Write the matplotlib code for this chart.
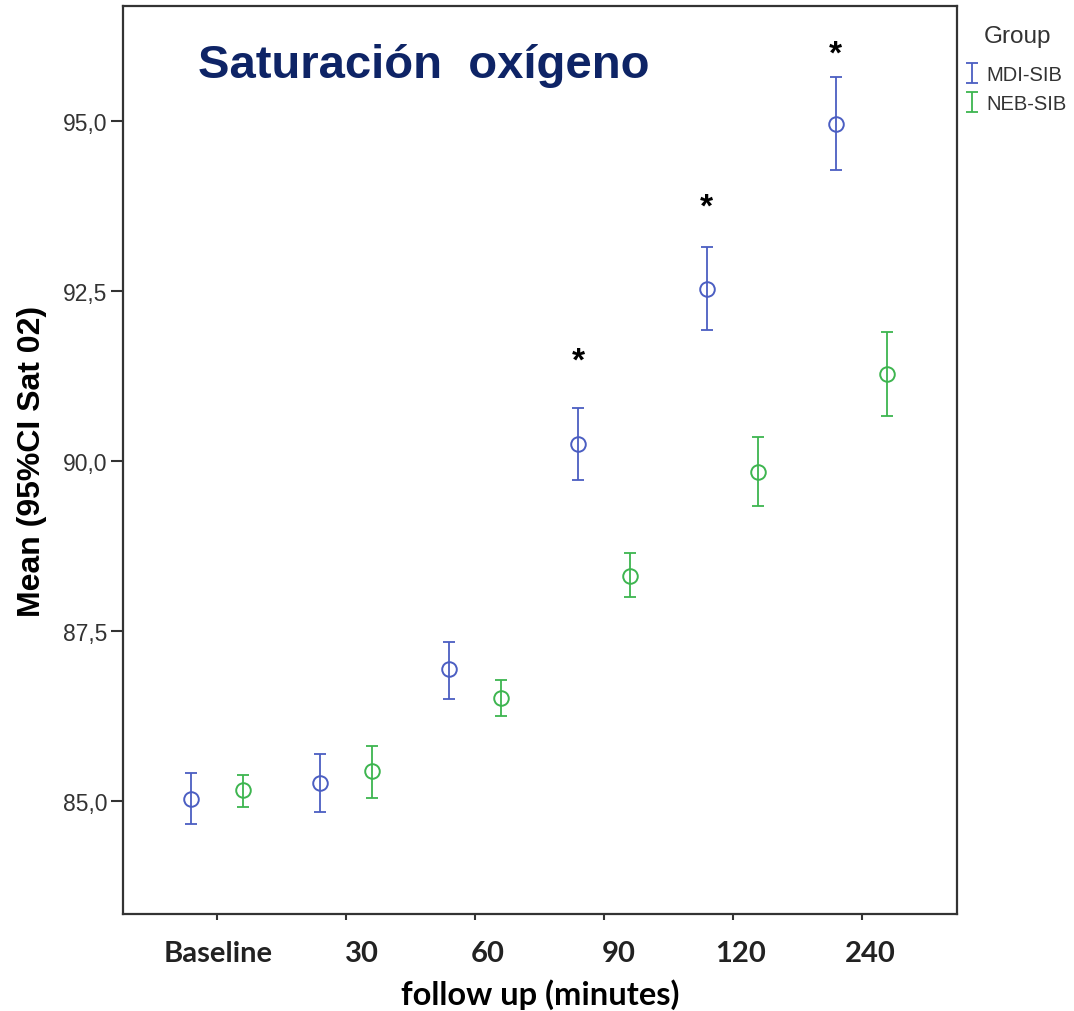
import numpy as np
import matplotlib.pyplot as plt

# dane
czasy = ['Baseline', '30', '60', '90', '120', '240']
mdi_srednia = [85.03, 85.26, 86.93, 90.25, 92.53, 94.96]
mdi_dol = [84.66, 84.83, 86.49, 89.72, 91.92, 94.28]
mdi_gora = [85.40, 85.69, 87.34, 90.78, 93.15, 95.64]
neb_srednia = [85.16, 85.43, 86.51, 88.31, 89.84, 91.28]
neb_dol = [84.90, 85.04, 86.24, 87.99, 89.34, 90.66]
neb_gora = [85.38, 85.81, 86.78, 88.64, 90.35, 91.90]
gwiazdki_idx = [3, 4, 5]
gwiazdki_y = [91.47, 93.74, 95.99]
y_ticks = [85.0, 87.5, 90.0, 92.5, 95.0]

kolor_mdi = '#4b5ec2'
kolor_neb = '#3db54f'
przesun = 0.2

fig = plt.figure(figsize=(10.74, 10.12), dpi=100)
ax = fig.add_axes([0.1145, 0.0958, 0.7765, 0.8972])

x = np.arange(len(czasy))


def rysuj(xs, sr, dol, gora, kolor, nazwa):
    sr = np.array(sr)
    err = [sr - np.array(dol), np.array(gora) - sr]
    eb = ax.errorbar(xs, sr, yerr=err, fmt='none', ecolor=kolor, elinewidth=1.3,
                     capsize=4.5, capthick=1.3, label=nazwa)
    ax.plot(xs, sr, 'o', ms=10.5, mfc='none', mec=kolor, mew=1.4)
    return eb


h1 = rysuj(x - przesun, mdi_srednia, mdi_dol, mdi_gora, kolor_mdi, 'MDI-SIB')
h2 = rysuj(x + przesun, neb_srednia, neb_dol, neb_gora, kolor_neb, 'NEB-SIB')

for i, yy in zip(gwiazdki_idx, gwiazdki_y):
    ax.text(x[i] - przesun, yy, '*', ha='center', va='center',
            fontsize=24, fontweight='bold', family='Liberation Sans')

ax.set_xlim(-0.73, len(czasy) - 1 + 0.74)
ax.set_ylim(83.33, 96.69)
ax.set_yticks(y_ticks)
ax.set_yticklabels([f'{v:.1f}'.replace('.', ',') for v in y_ticks],
                   family='Liberation Sans', fontsize=16.5, color='#333333')
ax.set_xticks(x)
ax.set_xticklabels([''] * len(czasy))

# etykiety osi x są lekko przesunięte w prawo względem kresek
dx = [0.01, 0.12, 0.1, 0.115, 0.06, 0.07]
for xi, lab, d in zip(x, czasy, dx):
    ax.text(xi + d, -0.043, lab, transform=ax.get_xaxis_transform(), ha='center', va='center',
            family='Lato', fontweight='bold', fontsize=21, color='#222222')

ax.tick_params(axis='y', length=9, width=1.5, pad=2, color='#333333')
ax.tick_params(axis='x', length=4.5, width=1.5, color='#333333')
for s in ax.spines.values():
    s.set_linewidth(1.6)
    s.set_color('#333333')

ax.text(0.5, -0.088, 'follow up (minutes)', transform=ax.transAxes, ha='center', va='center',
        family='Lato', fontweight='bold', fontsize=23.5)
ax.set_ylabel('Mean (95%CI Sat 02)', family='Liberation Sans', fontweight='bold', fontsize=23, labelpad=12)

ax.text(0.09, 0.935, 'Saturación  oxígeno', transform=ax.transAxes, ha='left', va='center',
        family='Liberation Sans', fontweight='bold', fontsize=34, color='#0e2466')

leg = fig.legend(handles=[h1, h2], loc='upper left', bbox_to_anchor=(0.899, 0.935),
                 frameon=False, handlelength=0.6, handletextpad=0.45,
                 labelspacing=0.5, borderaxespad=0, borderpad=0,
                 prop={'family': 'Liberation Sans', 'size': 14.5})
for t in leg.get_texts():
    t.set_color('#333333')
fig.text(0.947, 0.963, 'Group', ha='center', va='center', family='Liberation Sans',
         fontsize=17.5, color='#333333')

fig.savefig('out.png', dpi=100)
